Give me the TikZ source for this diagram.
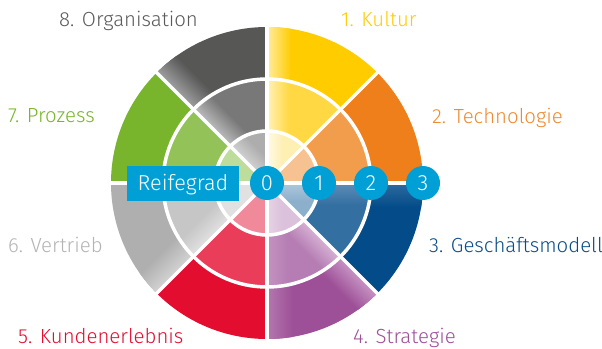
\documentclass[tikz,border=0pt]{standalone}
\usepackage{fontspec}
\setmainfont{Fira Sans}[UprightFont={* Light}]
\definecolor{yelA}{HTML}{FFCC00}\definecolor{yelB}{HTML}{FFD843}\definecolor{yelC}{HTML}{FEEFB2}
\definecolor{yelAl}{HTML}{FFEDA0}\definecolor{yelBl}{HTML}{FFF2B8}\definecolor{yelCl}{HTML}{FFFAE6}
\definecolor{orgA}{HTML}{EE7F1B}\definecolor{orgB}{HTML}{F29D4B}\definecolor{orgC}{HTML}{F6C291}
\definecolor{bluA}{HTML}{034C89}\definecolor{bluB}{HTML}{336FA1}\definecolor{bluC}{HTML}{8CAFCB}
\definecolor{bluAl}{HTML}{2E6A9F}\definecolor{bluBl}{HTML}{5D8DB8}\definecolor{bluCl}{HTML}{AEC8DC}
\definecolor{purA}{HTML}{9D4F97}\definecolor{purB}{HTML}{B57DB3}\definecolor{purC}{HTML}{DBC1DB}
\definecolor{purAl}{HTML}{C895C5}\definecolor{purBl}{HTML}{D7B2D5}
\definecolor{purAv}{HTML}{B478AF}\definecolor{purBv}{HTML}{C393C0}\definecolor{purCv}{HTML}{E6D3E5}
\definecolor{redA}{HTML}{E30D2F}\definecolor{redB}{HTML}{E93D59}\definecolor{redC}{HTML}{F08A9A}
\definecolor{lgrA}{HTML}{AFAFAF}\definecolor{lgrB}{HTML}{C6C6C6}\definecolor{lgrC}{HTML}{E1E1E1}
\definecolor{lgrAl}{HTML}{D4D4D4}\definecolor{lgrBl}{HTML}{E2E2E2}
\definecolor{grnA}{HTML}{79B52C}\definecolor{grnB}{HTML}{93C358}\definecolor{grnC}{HTML}{BEDC9C}
\definecolor{dgrA}{HTML}{575756}\definecolor{dgrB}{HTML}{787878}\definecolor{dgrC}{HTML}{ADADAD}
\definecolor{dgrAl}{HTML}{A0A0A0}\definecolor{dgrBl}{HTML}{BCBCBC}\definecolor{dgrCl}{HTML}{D2D2D2}
\definecolor{cyanbox}{HTML}{009FD6}
\definecolor{txtOrg}{HTML}{5A5A5A}\definecolor{txtTech}{HTML}{F08A30}
\definecolor{txtBlue}{HTML}{0B4B86}\definecolor{txtLgr}{HTML}{B4B4B4}
\newcommand\segfill[5]{\fill[#5] (#3:#1) arc[start angle=#3,end angle=#4,radius=#1] -- (#4:#2) arc[start angle=#4,end angle=#3,radius=#2] -- cycle;}
\newcommand\segclip[4]{\clip (#3:#1) arc[start angle=#3,end angle=#4,radius=#1] -- (#4:#2) arc[start angle=#4,end angle=#3,radius=#2] -- cycle;}
% highlight on the clockwise side of a ray at angle #1
\newcommand\hlcw[4]{\begin{scope}[transform canvas={rotate=#1}]\shade[top color=#3,bottom color=#4] (0,-#2) rectangle (170,0);\end{scope}}
% highlight on the counterclockwise side of a ray at angle #1
\newcommand\hlccw[4]{\begin{scope}[transform canvas={rotate=#1}]\shade[bottom color=#3,top color=#4] (0,0) rectangle (170,#2);\end{scope}}
\tikzset{
  lbl/.style={anchor=base west,inner sep=0pt,font=\fontsize{20.4}{24}\selectfont},
  sep/.style={white,line width=3.5pt},
  num/.style={circle,fill=cyanbox,text=white,inner sep=0pt,minimum size=34pt,text height=15pt,text depth=0pt,font=\fontsize{22}{24}\selectfont},
  reife/.style={rectangle,fill=cyanbox,text=white,inner sep=0pt,minimum width=112pt,minimum height=35pt,text height=15pt,text depth=0pt,font=\fontsize{21.6}{24}\selectfont}
}
\begin{document}
\begin{tikzpicture}[x=1pt,y=1pt]
\useasboundingbox[fill=white] (-267,-165) rectangle (335,183);
% ---- 1 Kultur (45..90), highlight at 90
\begin{scope}\segclip{104}{156}{45}{90}\fill[yelA] (0,0) circle (160);\hlcw{90}{24}{yelAl}{yelA}\end{scope}
\begin{scope}\segclip{52}{104}{45}{90}\fill[yelB] (0,0) circle (160);\hlcw{90}{22}{yelBl}{yelB}\end{scope}
\begin{scope}\segclip{0}{52}{45}{90}\fill[yelC] (0,0) circle (160);\hlcw{90}{16}{yelCl}{yelC}\end{scope}
% ---- 2 Technologie (0..45)
\segfill{104}{156}{0}{45}{orgA}
\segfill{52}{104}{0}{45}{orgB}
\segfill{0}{52}{0}{45}{orgC}
% ---- 3 Geschaeftsmodell (-45..0), highlight at 0
\begin{scope}\segclip{104}{156}{-45}{0}\fill[bluA] (0,0) circle (160);\hlcw{0}{24}{bluAl}{bluA}\end{scope}
\begin{scope}\segclip{52}{104}{-45}{0}\fill[bluB] (0,0) circle (160);\hlcw{0}{22}{bluBl}{bluB}\end{scope}
\begin{scope}\segclip{0}{52}{-45}{0}\fill[bluC] (0,0) circle (160);\hlcw{0}{18}{bluCl}{bluC}\end{scope}
% ---- 4 Strategie (-90..-45), highlights at -45 and -90
\begin{scope}\segclip{104}{156}{-90}{-45}\fill[purA] (0,0) circle (160);\hlcw{-45}{26}{purAl}{purA}\hlccw{-90}{26}{purAv}{purA}\end{scope}
\begin{scope}\segclip{52}{104}{-90}{-45}\fill[purB] (0,0) circle (160);\hlcw{-45}{22}{purBl}{purB}\hlccw{-90}{22}{purBv}{purB}\end{scope}
\begin{scope}\segclip{0}{52}{-90}{-45}\fill[purC] (0,0) circle (160);\hlccw{-90}{16}{purCv}{purC}\end{scope}
% ---- 5 Kundenerlebnis (-135..-90)
\segfill{104}{156}{-135}{-90}{redA}
\segfill{52}{104}{-135}{-90}{redB}
\segfill{0}{52}{-135}{-90}{redC}
% ---- 6 Vertrieb (-180..-135), highlight at -135
\begin{scope}\segclip{104}{156}{-180}{-135}\fill[lgrA] (0,0) circle (160);\hlcw{-135}{26}{lgrAl}{lgrA}\end{scope}
\begin{scope}\segclip{52}{104}{-180}{-135}\fill[lgrB] (0,0) circle (160);\hlcw{-135}{22}{lgrBl}{lgrB}\end{scope}
\segfill{0}{52}{-180}{-135}{lgrC}
% ---- 7 Prozess (135..180)
\segfill{104}{156}{135}{180}{grnA}
\segfill{52}{104}{135}{180}{grnB}
\segfill{0}{52}{135}{180}{grnC}
% ---- 8 Organisation (90..135), highlight at 135
\begin{scope}\segclip{104}{156}{90}{135}\fill[dgrA] (0,0) circle (160);\hlcw{135}{26}{dgrAl}{dgrA}\end{scope}
\begin{scope}\segclip{52}{104}{90}{135}\fill[dgrB] (0,0) circle (160);\hlcw{135}{22}{dgrBl}{dgrB}\end{scope}
\begin{scope}\segclip{0}{52}{90}{135}\fill[dgrC] (0,0) circle (160);\hlcw{135}{18}{dgrCl}{dgrC}\end{scope}
% ---- white separators
\draw[sep] (0,0) circle (52) (0,0) circle (104);
\foreach \a in {0,45,...,315} \draw[sep] (0,0) -- (\a:158);
% ---- scale markers
\node[num] (n0) at (0,0) {0};
\node[num] (n1) at (52,0) {1};
\node[num] (n2) at (104,0) {2};
\node[num] (n3) at (156,0) {3};
\node[reife] (rg) at (-84,-0.5) {Reifegrad};
% ---- labels
\node[lbl,text=txtOrg] (l8) at (-208,156) {8. Organisation};
\node[lbl,text=yelA] (l1) at (74,156) {1. Kultur};
\node[lbl,text=txtTech] (l2) at (165,59) {2. Technologie};
\node[lbl,text=grnA] (l7) at (-259,60) {7. Prozess};
\node[lbl,text=txtLgr] (l6) at (-259,-69) {6. Vertrieb};
\node[lbl,text=txtBlue] (l3) at (162,-69) {3. Geschäftsmodell};
\node[lbl,text=redA] (l5) at (-249,-160) {5. Kundenerlebnis};
\node[lbl,text=purA] (l4) at (86,-160) {4. Strategie};
\end{tikzpicture}
\end{document}
